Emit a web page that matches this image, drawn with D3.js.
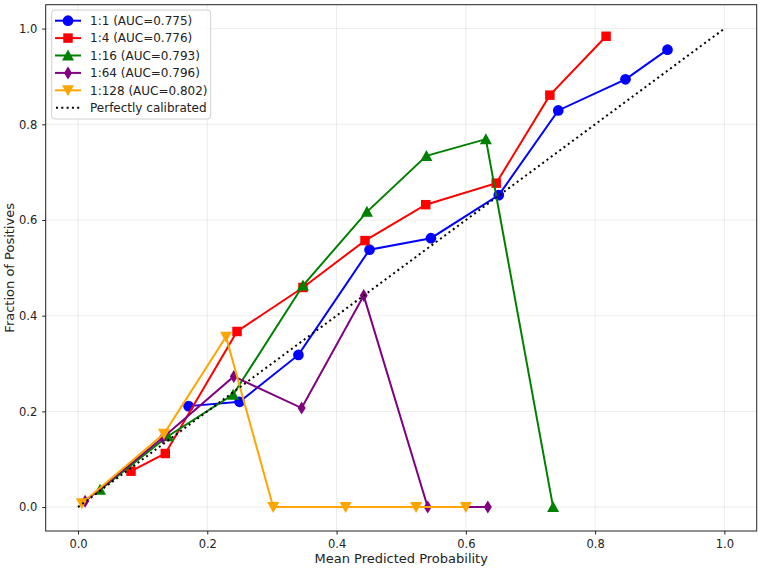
<!DOCTYPE html>
<html>
<head>
<meta charset="utf-8">
<script src="https://cdn.jsdelivr.net/npm/d3@7"></script>
<style>
  body { margin: 0; background: #fff; }
  text { font-family: "DejaVu Sans", sans-serif; }
</style>
</head>
<body>
<div id="chart"></div>
<script>
// calibration curves, one array per class ratio
let labels = ["1:1 (AUC=0.775)", "1:4 (AUC=0.776)", "1:16 (AUC=0.793)", "1:64 (AUC=0.796)", "1:128 (AUC=0.802)"];
let colors = ["#0000ff", "#ff0000", "#008000", "#800080", "#ffa500"];
let symbols = ["circle", "square", "triangleUp", "diamond", "triangleDown"];

let ratio1x = [0.171, 0.250, 0.341, 0.451, 0.546, 0.651, 0.743, 0.847, 0.912];
let ratio1y = [0.211, 0.220, 0.318, 0.538, 0.562, 0.652, 0.829, 0.894, 0.956];
let ratio4x = [0.082, 0.135, 0.246, 0.348, 0.444, 0.538, 0.647, 0.730, 0.817];
let ratio4y = [0.075, 0.112, 0.367, 0.459, 0.557, 0.632, 0.677, 0.861, 0.984];
let ratio16x = [0.034, 0.139, 0.240, 0.348, 0.447, 0.539, 0.631, 0.735];
let ratio16y = [0.036, 0.148, 0.235, 0.463, 0.617, 0.734, 0.769, 0.0];
let ratio64x = [0.011, 0.131, 0.241, 0.346, 0.442, 0.541, 0.634];
let ratio64y = [0.012, 0.145, 0.273, 0.207, 0.442, 0.0, 0.0];
let ratio128x = [0.006, 0.133, 0.229, 0.302, 0.414, 0.523, 0.600];
let ratio128y = [0.008, 0.153, 0.356, 0.0, 0.0, 0.0, 0.0];

let xs = [ratio1x, ratio4x, ratio16x, ratio64x, ratio128x];
let ys = [ratio1y, ratio4y, ratio16y, ratio64y, ratio128y];
let ticks = [0.0, 0.2, 0.4, 0.6, 0.8, 1.0];

let width = 762, height = 570;
let margin = {top: 4.7, right: 5.3, bottom: 39, left: 45.7};

let svg = d3.select("#chart").append("svg")
    .attr("width", width)
    .attr("height", height);

let x = d3.scaleLinear().domain([-0.05, 1.05]).range([margin.left, width - margin.right]);
let y = d3.scaleLinear().domain([-0.05, 1.05]).range([height - margin.bottom, margin.top]);

// grid
svg.append("g").selectAll("line.vx").data(ticks).enter().append("line")
    .attr("x1", d => x(d)).attr("x2", d => x(d))
    .attr("y1", margin.top).attr("y2", height - margin.bottom)
    .attr("stroke", "#b0b0b0").attr("stroke-opacity", 0.3).attr("stroke-width", 0.8);
svg.append("g").selectAll("line.hy").data(ticks).enter().append("line")
    .attr("y1", d => y(d)).attr("y2", d => y(d))
    .attr("x1", margin.left).attr("x2", width - margin.right)
    .attr("stroke", "#b0b0b0").attr("stroke-opacity", 0.3).attr("stroke-width", 0.8);

// axes
let xAxis = svg.append("g")
    .attr("transform", "translate(0," + (height - margin.bottom) + ")")
    .call(d3.axisBottom(x).tickValues(ticks).tickFormat(d3.format(".1f")).tickSize(3.5).tickPadding(5));
let yAxis = svg.append("g")
    .attr("transform", "translate(" + margin.left + ",0)")
    .call(d3.axisLeft(y).tickValues(ticks).tickFormat(d3.format(".1f")).tickSize(3.5).tickPadding(5));
[xAxis, yAxis].forEach(function (g) {
    g.select(".domain").remove();
    g.selectAll("text").attr("font-size", 11.5).attr("fill", "#222");
    g.selectAll("line").attr("stroke", "#222");
});

// frame
svg.append("rect")
    .attr("x", margin.left).attr("y", margin.top)
    .attr("width", width - margin.left - margin.right)
    .attr("height", height - margin.top - margin.bottom)
    .attr("fill", "none").attr("stroke", "#222").attr("stroke-width", 1);

// curves
let line = d3.line().x(d => x(d[0])).y(d => y(d[1]));
let symbolSize = {circle: 90, square: 90, triangleUp: 70, diamond: 70, triangleDown: 70};

function markerPath(sym) {
    if (sym === "diamond") {
        // thin diamond like matplotlib 'd'
        return "M0,-6.5L4,0L0,6.5L-4,0Z";
    }
    if (sym === "triangleUp") return "M0,-6L6,5L-6,5Z";
    if (sym === "triangleDown") return "M0,6L6,-5L-6,-5Z";
    let t = {circle: d3.symbolCircle, square: d3.symbolSquare}[sym];
    return d3.symbol().type(t).size(symbolSize[sym])();
}

labels.forEach(function (lab, i) {
    let pts = xs[i].map((v, j) => [v, ys[i][j]]);
    let g = svg.append("g");
    g.append("path")
        .attr("d", line(pts))
        .attr("fill", "none")
        .attr("stroke", colors[i])
        .attr("stroke-width", 2);
    g.selectAll("path.m").data(pts).enter().append("path")
        .attr("class", "m")
        .attr("d", markerPath(symbols[i]))
        .attr("transform", d => "translate(" + x(d[0]) + "," + y(d[1]) + ")")
        .attr("fill", colors[i]);
});

// perfectly calibrated
svg.append("path")
    .attr("d", line([[0, 0], [1, 1]]))
    .attr("fill", "none")
    .attr("stroke", "#000")
    .attr("stroke-width", 2)
    .attr("stroke-dasharray", "2,3.3");

// axis labels
svg.append("text")
    .attr("x", x(0.5)).attr("y", 563)
    .attr("text-anchor", "middle")
    .attr("font-size", 13)
    .attr("fill", "#222")
    .text("Mean Predicted Probability");
svg.append("text")
    .attr("transform", "translate(14," + y(0.5) + ") rotate(-90)")
    .attr("text-anchor", "middle")
    .attr("font-size", 13)
    .attr("fill", "#222")
    .text("Fraction of Positives");

// legend
let legend = svg.append("g");
legend.append("rect")
    .attr("x", 51.7).attr("y", 10)
    .attr("width", 159).attr("height", 109)
    .attr("rx", 3)
    .attr("fill", "#fff").attr("fill-opacity", 0.8)
    .attr("stroke", "#d0d0d0");
let legendItems = labels.concat(["Perfectly calibrated"]);
legendItems.forEach(function (lab, i) {
    let cy = 20.7 + i * 17.4;
    let item = legend.append("g");
    if (i < labels.length) {
        item.append("line")
            .attr("x1", 55).attr("x2", 81).attr("y1", cy).attr("y2", cy)
            .attr("stroke", colors[i]).attr("stroke-width", 2);
        item.append("path")
            .attr("d", markerPath(symbols[i]))
            .attr("transform", "translate(68," + cy + ")")
            .attr("fill", colors[i]);
    } else {
        item.append("line")
            .attr("x1", 56).attr("x2", 81).attr("y1", cy).attr("y2", cy)
            .attr("stroke", "#000").attr("stroke-width", 2)
            .attr("stroke-dasharray", "2,3.3");
    }
    item.append("text")
        .attr("x", 90).attr("y", cy)
        .attr("dy", "0.35em")
        .attr("font-size", 12)
        .attr("fill", "#222")
        .text(lab);
});
</script>
</body>
</html>
